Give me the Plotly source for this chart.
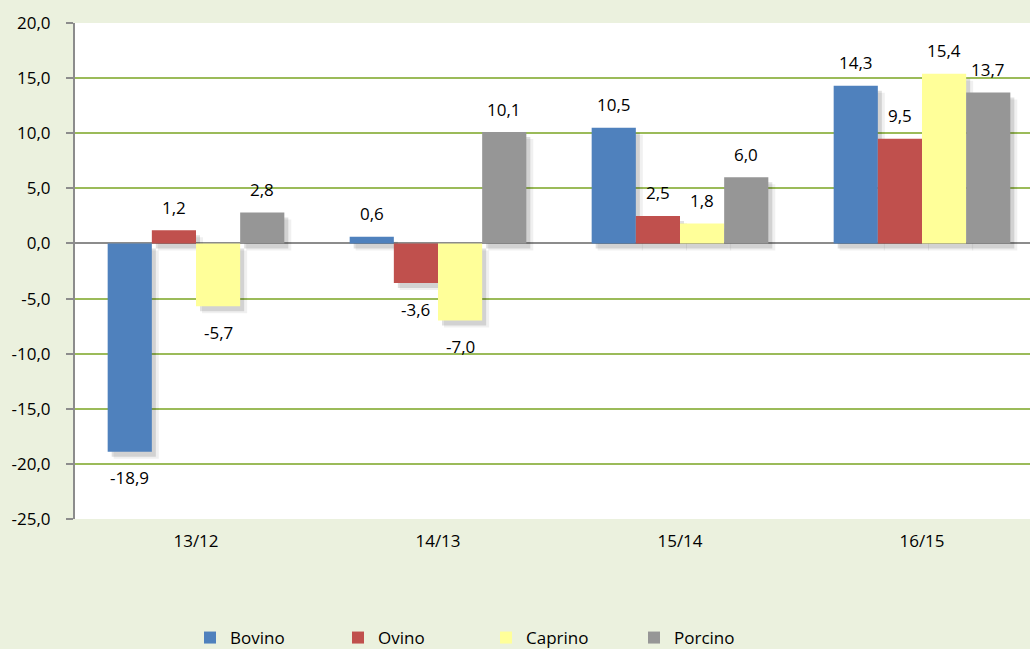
import plotly.graph_objects as go

categories = ["13/12", "14/13", "15/14", "16/15"]
bovino = [-18.9, 0.6, 10.5, 14.3]
ovino = [1.2, -3.6, 2.5, 9.5]
caprino = [-5.7, -7.0, 1.8, 15.4]
porcino = [2.8, 10.1, 6.0, 13.7]
y_ticks = [-25, -20, -15, -10, -5, 0, 5, 10, 15, 20]

series = [
    ("Bovino", bovino, "#4F81BD"),
    ("Ovino", ovino, "#C0504D"),
    ("Caprino", caprino, "#FFFF99"),
    ("Porcino", porcino, "#969696"),
]

def fmt(v):
    return f"{v:.1f}".replace(".", ",")

font_family = "Open Sans, Liberation Sans, sans-serif"

W, H = 1030, 649
L, R, T, B = 75, 0, 23, 130
plot_w = W - L - R
plot_h = H - T - B
x_range = [-0.5, -0.5 + plot_w / 242.0]
y_range = [-25, 20]
px_per_x = plot_w / (x_range[1] - x_range[0])
px_per_y = plot_h / (y_range[1] - y_range[0])
sdx, sdy = 5, 5  # shadow offset px
bargap = 0.27
bw = (1 - bargap) / 4
bar_px = px_per_x * bw

fig = go.Figure()

# soft shadows (same data, drawn first)
for i, (name, vals, col) in enumerate(series):
    for k, alpha in ((2, 0.06), (0, 0.12)):
        fig.add_trace(go.Bar(
            x=categories, y=vals, name=name, showlegend=False, hoverinfo="skip",
            base=-(sdy + k) / px_per_y,
            offset=-2 * bw + i * bw + (sdx - 1 + k) / px_per_x,
            width=bw + (k * 0.5) / px_per_x,
            marker=dict(color=f"rgba(0,0,0,{alpha})", line=dict(width=0)),
        ))

# bars
for i, (name, vals, col) in enumerate(series):
    fig.add_trace(go.Bar(
        x=categories, y=vals, name=name,
        offset=-2 * bw + i * bw, width=bw,
        marker=dict(color=col, line=dict(width=0)),
    ))

annotations = []
for i, (name, vals, col) in enumerate(series):
    off = (i - 1.5) * bar_px
    for c, v in zip(categories, vals):
        annotations.append(dict(
            x=c, y=v, xref="x", yref="y", text=fmt(v), showarrow=False,
            xshift=off, yshift=23 if v >= 0 else -26,
            xanchor="center", yanchor="middle",
            font=dict(size=17, color="#000000", family=font_family),
        ))

fig.update_layout(
    width=W, height=H,
    paper_bgcolor="#EBF1DE", plot_bgcolor="#FFFFFF",
    margin=dict(l=L, r=R, t=T, b=B, pad=0, autoexpand=False),
    barmode="overlay",
    font=dict(family=font_family, size=17, color="#000000"),
    showlegend=True,
    legend=dict(orientation="h", x=(190 - L) / plot_w, xanchor="left",
                y=-(656 - (H - B)) / plot_h, yanchor="bottom",
                font=dict(size=17, family=font_family), entrywidth=103,
                itemwidth=30, bgcolor="rgba(0,0,0,0)"),
    xaxis=dict(range=x_range, showgrid=False, zeroline=False,
               showline=False, ticks="", tickfont=dict(size=17),
               ticklabelstandoff=10, type="category",
               categoryorder="array", categoryarray=categories),
    yaxis=dict(range=y_range, tickvals=y_ticks,
               ticktext=[fmt(v) for v in y_ticks],
               showgrid=True, gridcolor="#9BBB59", gridwidth=2,
               zeroline=True, zerolinecolor="#8C8C8C", zerolinewidth=2,
               showline=True, linecolor="#8C8C8C", linewidth=2,
               ticks="outside", ticklen=7, tickcolor="#8C8C8C", tickwidth=2,
               ticklabelstandoff=12, tickfont=dict(size=17)),
    annotations=annotations,
)

fig.write_html("out.html", config={"displayModeBar": False},
               post_script="document.body.style.margin='0';")
